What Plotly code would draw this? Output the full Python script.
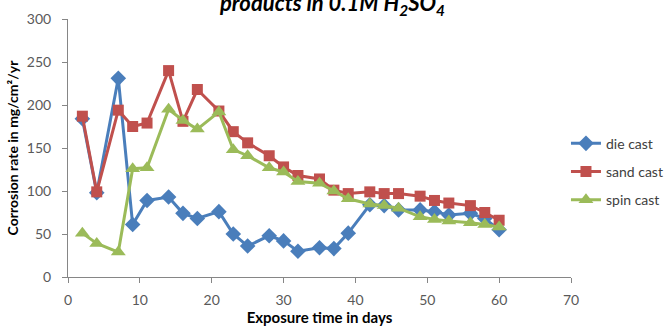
import plotly.graph_objects as go

days = [2, 4, 7, 9, 11, 14, 16, 18, 21, 23, 25, 28, 30, 32, 35, 37, 39, 42, 44, 46, 49, 51, 53, 56, 58, 60]
die_cast = [184, 98, 231, 61, 89, 93, 74, 68, 76, 50, 36, 48, 42, 30, 34, 33, 51, 84, 83, 78, 78, 76, 72, 74, 68, 55]
sand_cast = [187, 99, 194, 175, 179, 240, 181, 218, 193, 169, 156, 141, 128, 118, 114, 101, 97, 99, 97, 97, 94, 89, 86, 83, 75, 66]
spin_cast = [51, 39, 29, 126, 127, 195, 182, 172, 192, 148, 141, 127, 122, 111, 109, 100, 91, 85, 83, 80, 70, 67, 65, 63, 61, 58]

FONT = "Lato"
fig = go.Figure()
series = [
    ("die cast", die_cast, "#4A7EBB", "diamond", 12),
    ("sand cast", sand_cast, "#C0504D", "square", 11),
    ("spin cast", spin_cast, "#9BBB59", "triangle-up", 13),
]
for name, vals, col, sym, sz in series:
    fig.add_trace(go.Scatter(
        x=days, y=vals, name=name, mode="lines+markers", legendgroup=name,
        line=dict(color=col, width=3),
        marker=dict(symbol=sym, size=sz, color=col, line=dict(width=0)),
    ))

fig.update_layout(
    width=667, height=326,
    margin=dict(l=68, r=96, t=19, b=49, autoexpand=False),
    paper_bgcolor="white", plot_bgcolor="white",
    font=dict(family=FONT, size=14, color="#595959"),
    showlegend=True,
    legend=dict(x=0.99, xanchor="left", y=0.408, yanchor="middle",
                font=dict(family=FONT, size=14, color="#404040"),
                tracegroupgap=7, bgcolor="rgba(0,0,0,0)", itemwidth=30),
    xaxis=dict(range=[0, 70], dtick=10, showgrid=False, zeroline=False,
               showline=True, linecolor="#868686", linewidth=1,
               ticks="outside", ticklen=5, tickcolor="#868686",
               ticklabelstandoff=5, automargin=False,
               tickfont=dict(family=FONT, size=14, color="#595959"),
               title=dict(text="<b>Exposure time in days</b>", standoff=3,
                          font=dict(family=FONT, size=15, color="#000000"))),
    yaxis=dict(range=[0, 300], dtick=50, showgrid=False, zeroline=False,
               showline=True, linecolor="#868686", linewidth=1,
               ticks="outside", ticklen=5, tickcolor="#868686",
               ticklabelstandoff=8, automargin=False,
               tickfont=dict(family=FONT, size=14, color="#595959"),
               title=dict(text="<b>Corrosion rate in mg/cm²/yr</b>", standoff=4,
                          font=dict(family=FONT, size=14, color="#000000"))),
)
fig.add_annotation(
    text="<b><i>products in 0.1M H<sub>2</sub>SO<sub>4</sub></i></b>",
    xref="paper", yref="paper", x=0.525, y=1.06, xanchor="center", yanchor="middle",
    showarrow=False, font=dict(family=FONT, size=22, color="#000000"),
)
fig.write_html("out.html")
